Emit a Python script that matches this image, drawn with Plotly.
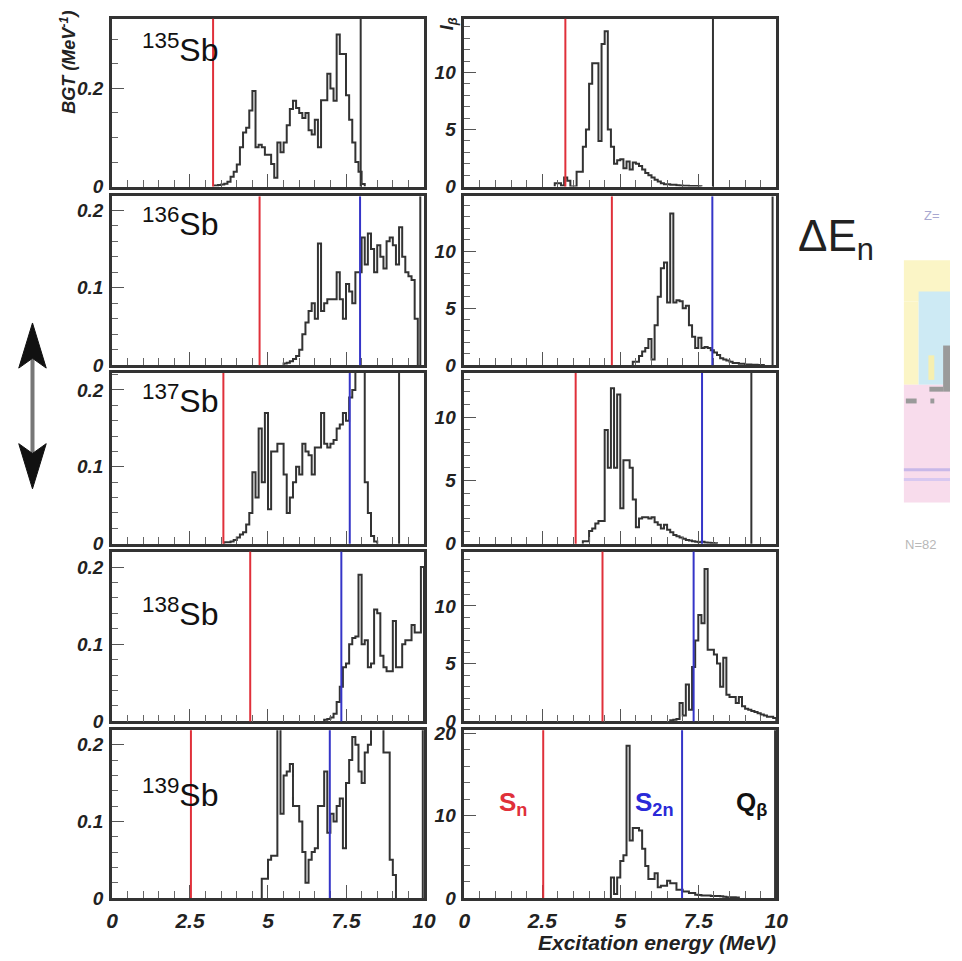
import numpy as np
import plotly.graph_objects as go

W, H = 962, 961

# ---------------- data ----------------
isotopes = ["135", "136", "137", "138", "139"]
BIN = 0.1  # MeV bin width

bgt_start = [3.3, 5.5, 3.6, 6.8, 4.8]
bgt_135 = [0.002, 0.003, 0.004, 0.006, 0.01, 0.02, 0.03, 0.045, 0.08, 0.11, 0.12, 0.155, 0.195,
           0.08, 0.085, 0.08, 0.065, 0.065, 0.046, 0.018, 0.09, 0.07, 0.09, 0.125, 0.158, 0.175,
           0.16, 0.15, 0.14, 0.15, 0.115, 0.106, 0.136, 0.08, 0.176, 0.176, 0.23, 0.2, 0.175,
           0.31, 0.27, 0.27, 0.186, 0.136, 0.09, 0.05, 0.03, 0.005]
bgt_136 = [0.002, 0.003, 0.005, 0.008, 0.012, 0.02, 0.04, 0.055, 0.07, 0.08, 0.06, 0.157, 0.07,
           0.08, 0.085, 0.085, 0.085, 0.12, 0.085, 0.06, 0.105, 0.095, 0.08, 0.12, 0.12, 0.165,
           0.13, 0.17, 0.15, 0.12, 0.155, 0.14, 0.125, 0.16, 0.165, 0.155, 0.13, 0.178, 0.14,
           0.12, 0.115, 0.11, 0.06]
bgt_137 = [0.002, 0.002, 0.003, 0.005, 0.008, 0.012, 0.015, 0.025, 0.04, 0.093, 0.06, 0.15, 0.08,
           0.17, 0.045, 0.12, 0.12, 0.13, 0.13, 0.09, 0.04, 0.06, 0.08, 0.1, 0.09, 0.13, 0.12,
           0.115, 0.09, 0.125, 0.125, 0.17, 0.13, 0.125, 0.13, 0.135, 0.15, 0.155, 0.17, 0.16,
           0.19, 0.2, 0.26, 0.26, 0.26, 0.08, 0.04, 0.01, 0.003]
bgt_138 = [0.002, 0.003, 0.005, 0.01, 0.025, 0.045, 0.07, 0.075, 0.1, 0.108, 0.11, 0.19, 0.1,
           0.105, 0.07, 0.075, 0.145, 0.14, 0.085, 0.07, 0.065, 0.065, 0.13, 0.07, 0.07, 0.1,
           0.105, 0.105, 0.125, 0.115, 0.115, 0.2]
bgt_139 = [0.025, 0.025, 0.05, 0.055, 0.055, 0.25, 0.11, 0.16, 0.165, 0.175, 0.12, 0.12, 0.1,
           0.06, 0.02, 0.05, 0.06, 0.065, 0.12, 0.12, 0.165, 0.085, 0.11, 0.1, 0.12, 0.13, 0.065,
           0.15, 0.18, 0.21, 0.2, 0.165, 0.15, 0.19, 0.2, 0.25, 0.25, 0.25, 0.25, 0.19, 0.19,
           0.05, 0.03]

ib_start = [2.9, 5.4, 3.8, 6.6, 4.7]
ib_135 = [0.3, 0.3, 0.1, 0.8, 0.5, 0.0, 0.0, 1.3, 1.3, 3.5, 5.0, 9.0, 10.8, 10.8, 4.0, 12.5, 13.6,
          5.0, 3.5, 2.0, 2.3, 2.4, 1.6, 2.2, 1.5, 2.1, 2.0, 1.8, 1.5, 1.2, 1.0, 0.8, 0.6, 0.45,
          0.3, 0.2, 0.2, 0.15, 0.15, 0.12, 0.1, 0.08, 0.08, 0.06, 0.05, 0.04, 0.03]
ib_136 = [0.3, 0.3, 0.8, 1.2, 1.5, 2.3, 0.5, 3.5, 6.0, 8.5, 9.0, 5.5, 13.3, 5.5, 5.7, 5.6, 5.0,
          5.2, 3.5, 2.5, 1.5, 2.4, 1.5, 1.6, 1.5, 1.3, 1.1, 0.9, 0.6, 0.5, 0.4, 0.3, 0.2, 0.2,
          0.12, 0.12, 0.06, 0.05, 0.04, 0.03, 0.02, 0.02]
ib_137 = [0.2, 0.2, 1.0, 1.2, 1.6, 1.8, 1.8, 9.0, 6.0, 12.3, 6.0, 11.8, 2.8, 6.6, 6.6, 6.0, 3.5,
          1.3, 2.0, 2.1, 2.1, 2.0, 2.1, 1.7, 1.5, 1.2, 1.5, 1.1, 0.9, 0.7, 0.6, 0.5, 0.4, 0.3,
          0.25, 0.2, 0.15, 0.12, 0.15, 0.1, 0.08, 0.05, 0.03]
ib_138 = [0.1, 0.15, 0.2, 1.6, 0.5, 3.2, 1.0, 4.7, 7.0, 9.2, 8.5, 13.2, 6.2, 6.2, 5.8, 5.0, 3.0,
          5.5, 2.3, 2.1, 2.1, 1.6, 2.1, 1.3, 1.1, 1.0, 0.9, 0.8, 0.7, 0.6, 0.5, 0.4, 0.4, 0.3]
ib_139 = [2.5, 0.5, 2.5, 4.5, 5.2, 18.5, 7.0, 8.5, 8.5, 8.2, 6.0, 3.9, 2.3, 2.3, 3.0, 1.3, 1.5,
          1.5, 2.1, 1.8, 1.8, 1.0, 1.0, 0.8, 0.8, 0.6, 0.6, 0.4, 0.35, 0.3, 0.3, 0.3, 0.25, 0.25,
          0.25, 0.2, 0.15, 0.1, 0.1, 0.1, 0.05]

bgt_values = [bgt_135, bgt_136, bgt_137, bgt_138, bgt_139]
ib_values = [ib_135, ib_136, ib_137, ib_138, ib_139]

s_n = [3.24, 4.73, 3.57, 4.43, 2.53]
s_2n = [None, 7.95, 7.62, 7.35, 6.98]
q_beta = [7.97, 9.88, 9.2, None, 9.96]

x_ticks = [0, 2.5, 5, 7.5, 10]

# ---------------- layout helpers ----------------
col_px = [(108, 426), (467, 785)]
row_px = [(12, 183), (193, 365), (373, 547), (555, 728), (737, 908)]
bgt_ymax = [0.342, 0.218, 0.222, 0.22, 0.219]
bgt_dtick = [0.2, 0.1, 0.1, 0.1, 0.1]
bgt_minor = [0.05, 0.02, 0.02, 0.02, 0.02]
ib_ymax = [14.7, 14.8, 13.5, 14.7, 20.4]
ib_dtick = [5, 5, 5, 5, 10]
ib_minor = [1, 1, 1, 1, 2]


def px(x):
    return x / W


def py(y):
    return 1 - y / H


FRAME = "#333333"
YTICKFONT = dict(family="Liberation Sans", size=19, color="#222222", weight="bold", style="italic")
XTICKFONT = dict(family="Liberation Sans", size=21, color="#222222", weight="bold", style="italic")


def step_xy(start, vals):
    edges = start + BIN * np.arange(len(vals) + 1)
    x = np.concatenate([[edges[0]], edges])
    y = np.concatenate([[0.0], np.asarray(vals, float), [0.0]])
    return x, y


fig = go.Figure()
layout = {}
shapes = []
annotations = []

for r in range(5):
    for c in range(2):
        k = r * 2 + c + 1
        sfx = "" if k == 1 else str(k)
        if c == 0:
            x, y = step_xy(bgt_start[r], bgt_values[r])
            ymax, dtick, minor = bgt_ymax[r], bgt_dtick[r], bgt_minor[r]
        else:
            x, y = step_xy(ib_start[r], ib_values[r])
            ymax, dtick, minor = ib_ymax[r], ib_dtick[r], ib_minor[r]
        fig.add_trace(go.Scatter(x=x, y=y, mode="lines",
                                 line=dict(color="#333333", width=2, shape="hv"),
                                 xaxis="x" + sfx, yaxis="y" + sfx,
                                 showlegend=False, hoverinfo="skip"))
        x0, x1 = col_px[c]
        top, bot = row_px[r]
        layout["xaxis" + sfx] = dict(
            domain=[px(x0), px(x1)], range=[0, 10], anchor="y" + sfx,
            showgrid=False, zeroline=False, showline=True, mirror=True,
            linecolor=FRAME, linewidth=2.5,
            tickmode="array", tickvals=x_ticks, ticks="inside", ticklen=13, tickwidth=1.2,
            tickcolor="#555", showticklabels=(r == 4), tickfont=XTICKFONT, ticklabelstandoff=2,
            minor=dict(ticks="inside", dtick=0.5, tick0=0, ticklen=7, tickwidth=1, tickcolor="#666"),
        )
        layout["yaxis" + sfx] = dict(
            domain=[py(bot), py(top)], range=[0, ymax], anchor="x" + sfx,
            showgrid=False, zeroline=False, showline=True, mirror=True,
            linecolor=FRAME, linewidth=2.5,
            tickmode="linear", tick0=0, dtick=dtick, ticks="inside", ticklen=12, tickwidth=1.2,
            tickcolor="#555", showticklabels=True, tickfont=YTICKFONT, ticklabelstandoff=2,
            minor=dict(ticks="inside", dtick=minor, tick0=0, ticklen=6, tickwidth=1, tickcolor="#666"),
        )
        # threshold lines
        for val, col in ((s_n[r], "#e0303a"), (s_2n[r], "#3535c8"), (q_beta[r], "#333333")):
            if val is None:
                continue
            shapes.append(dict(type="line", xref="x" + sfx, yref="y" + sfx + " domain",
                               x0=val, x1=val, y0=0, y1=1,
                               line=dict(color=col, width=2), layer="above"))

# isotope labels
label_y = [42, 219, 399, 617, 801]
for r in range(5):
    annotations.append(dict(
        xref="paper", yref="paper", x=px(137), y=py(label_y[r]),
        xanchor="left", yanchor="middle", showarrow=False,
        text="<sup>%s</sup>Sb" % isotopes[r],
        font=dict(family="Liberation Sans", size=32, color="#111111")))

# axis titles
annotations += [
    dict(xref="paper", yref="paper", x=px(64), y=py(56), textangle=-90,
         xanchor="center", yanchor="middle", showarrow=False,
         text="BGT (MeV<sup>-1</sup>)",
         font=dict(family="Liberation Sans", size=18, color="#222", weight="bold", style="italic")),
    dict(xref="paper", yref="paper", x=px(451), y=py(17), textangle=-90,
         xanchor="center", yanchor="middle", showarrow=False,
         text="I<sub>β</sub>",
         font=dict(family="Liberation Sans", size=18, color="#222", weight="bold", style="italic")),
    dict(xref="paper", yref="paper", x=px(787), y=py(953),
         xanchor="right", yanchor="middle", showarrow=False,
         text="Excitation energy (MeV)",
         font=dict(family="Liberation Sans", size=21, color="#222", weight="bold", style="italic")),
    dict(xref="paper", yref="paper", x=px(500), y=py(812),
         xanchor="left", yanchor="middle", showarrow=False,
         text="S<sub>n</sub>",
         font=dict(family="Liberation Sans", size=26, color="#e0303a", weight="bold")),
    dict(xref="paper", yref="paper", x=px(639), y=py(812),
         xanchor="left", yanchor="middle", showarrow=False,
         text="S<sub>2n</sub>",
         font=dict(family="Liberation Sans", size=26, color="#2a2ad8", weight="bold")),
    dict(xref="paper", yref="paper", x=px(742), y=py(812),
         xanchor="left", yanchor="middle", showarrow=False,
         text="Q<sub>β</sub>",
         font=dict(family="Liberation Sans", size=26, color="#111", weight="bold")),
    # slide decorations
    dict(xref="paper", yref="paper", x=px(805), y=py(236),
         xanchor="left", yanchor="middle", showarrow=False,
         text="ΔE<sub>n</sub>",
         font=dict(family="Liberation Sans", size=44, color="#222")),
    dict(xref="paper", yref="paper", x=px(933), y=py(212),
         xanchor="left", yanchor="middle", showarrow=False,
         text="Z=", font=dict(family="Liberation Sans", size=13, color="#a8a8d0")),
    dict(xref="paper", yref="paper", x=px(914), y=py(548),
         xanchor="left", yanchor="middle", showarrow=False,
         text="N=82", font=dict(family="Liberation Sans", size=13, color="#b8b8b8")),
]


# double arrow on the left
def path(points):
    s = "M %f %f " % (px(points[0][0]), py(points[0][1]))
    for (a, b) in points[1:]:
        s += "L %f %f " % (px(a), py(b))
    return s + "Z"


shapes.append(dict(type="line", xref="paper", yref="paper", x0=px(27), x1=px(27),
                   y0=py(355), y1=py(460), line=dict(color="#777", width=4)))
shapes.append(dict(type="path", xref="paper", yref="paper",
                   path=path([(27, 322), (41, 368), (27, 358), (13, 368)]),
                   fillcolor="#111", line=dict(color="#111", width=1)))
shapes.append(dict(type="path", xref="paper", yref="paper",
                   path=path([(27, 491), (41, 445), (27, 455), (13, 445)]),
                   fillcolor="#111", line=dict(color="#111", width=1)))


# fragment of a nuclide chart on the right
def rect(x0, y0, x1, y1, color):
    return dict(type="rect", xref="paper", yref="paper", x0=px(x0), x1=px(x1),
                y0=py(y1), y1=py(y0), fillcolor=color, line=dict(width=0), layer="below")


shapes += [
    rect(915, 258, 962, 300, "#fbf5c6"),
    rect(915, 300, 930, 385, "#fbf5c6"),
    rect(930, 290, 962, 385, "#cdeaf4"),
    rect(915, 385, 962, 505, "#f8dcec"),
    rect(955, 345, 962, 392, "#9a9a9a"),
    rect(941, 387, 955, 392, "#9a9a9a"),
    rect(917, 399, 928, 404, "#9a9a9a"),
    rect(942, 399, 946, 404, "#9a9a9a"),
    rect(940, 355, 946, 380, "#f6efb0"),
    rect(915, 470, 962, 473, "#c8b8e8"),
    rect(915, 480, 962, 483, "#d8c8f0"),
]

layout.update(dict(
    width=W, height=H, margin=dict(l=0, r=0, t=0, b=0),
    paper_bgcolor="white", plot_bgcolor="white",
    shapes=shapes, annotations=annotations, showlegend=False,
))
fig.update_layout(**layout)
fig.write_html("out.html")
